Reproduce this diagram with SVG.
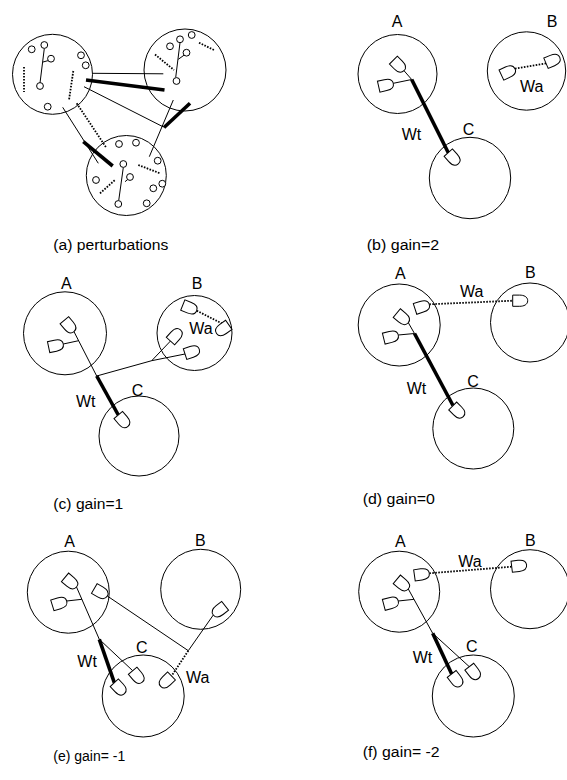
<svg xmlns="http://www.w3.org/2000/svg" xmlns:xlink="http://www.w3.org/1999/xlink" width="567" height="780" viewBox="0 0 567 780">
  <style>
    .ring { fill: none; stroke: #000; stroke-width: 1; }
    .cell { fill: #fff; stroke: #000; stroke-width: 1; }
    .dot  { fill: #fff; stroke: #000; stroke-width: 1; }
    .thin { fill: none; stroke: #000; stroke-width: 1; }
    .thick { fill: none; stroke: #000; stroke-width: 3.6; }
    .dash { fill: none; stroke: #000; stroke-width: 1.8; stroke-dasharray: 1.6 1.4; }
    .lbl { font-family: "Liberation Sans", Arial, sans-serif; font-size: 16px; fill: #000; }
    .cap { font-family: "Liberation Sans", Arial, sans-serif; font-size: 15.5px; fill: #000; }
  </style>
  <defs>
    <!-- neuron body: tip at origin, flat back 15px behind along -x -->
    <path id="nrn" class="cell" d="M0,0 C0,-4 -4,-5.6 -8,-5.6 L-15,-5.6 L-15,5.6 L-8,5.6 C-4,5.6 0,4 0,0 Z"/>
  </defs>

  <!-- ===== (a) perturbations ===== -->
  <g id="a-panel">
    <g id="a-node-left">
      <circle class="ring" cx="52.5" cy="74.3" r="40"/>
      <line class="thin" x1="44.3" y1="48.5" x2="40" y2="83"/>
      <line class="thin" x1="43" y1="62" x2="48.5" y2="60.5"/>
      <line class="dash" x1="24" y1="67" x2="24" y2="92"/>
      <line class="dash" x1="73.3" y1="71" x2="69" y2="100"/>
      <circle class="dot" cx="31.7" cy="49.3" r="3.4"/>
      <circle class="dot" cx="44.3" cy="45" r="3.4"/>
      <circle class="dot" cx="51" cy="58.7" r="3.4"/>
      <circle class="dot" cx="40" cy="86" r="3.4"/>
      <circle class="dot" cx="81" cy="55.3" r="3.4"/>
      <circle class="dot" cx="85.7" cy="65.3" r="3.4"/>
      <circle class="dot" cx="47.7" cy="106.7" r="3.4"/>
    </g>
    <g id="a-node-right">
      <circle class="ring" cx="185" cy="70" r="41"/>
      <line class="thin" x1="180" y1="42.7" x2="175.7" y2="77.5"/>
      <line class="thin" x1="178.3" y1="59.3" x2="184.3" y2="55"/>
      <line class="dash" x1="155" y1="54.5" x2="174" y2="70"/>
      <line class="dash" x1="199" y1="42.7" x2="214" y2="50"/>
      <circle class="dot" cx="170" cy="46.3" r="3.4"/>
      <circle class="dot" cx="180" cy="39.3" r="3.4"/>
      <circle class="dot" cx="191.7" cy="35" r="3.4"/>
      <circle class="dot" cx="186.5" cy="52.7" r="3.4"/>
      <circle class="dot" cx="176.5" cy="81" r="3.4"/>
    </g>
    <g id="a-node-bottom">
      <circle class="ring" cx="126.3" cy="175.5" r="40"/>
      <line class="thin" x1="123.3" y1="167.5" x2="118.7" y2="200.7"/>
      <line class="thin" x1="125" y1="181.7" x2="128.5" y2="178.8"/>
      <line class="dash" x1="138.3" y1="165" x2="160" y2="173.3"/>
      <line class="dash" x1="100" y1="193.3" x2="115" y2="180"/>
      <circle class="dot" cx="119" cy="144" r="3.4"/>
      <circle class="dot" cx="136" cy="142.7" r="3.4"/>
      <circle class="dot" cx="123.3" cy="164" r="3.4"/>
      <circle class="dot" cx="130" cy="177" r="3.4"/>
      <circle class="dot" cx="96" cy="180" r="3.4"/>
      <circle class="dot" cx="118.3" cy="204" r="3.4"/>
      <circle class="dot" cx="146.7" cy="203.3" r="3.4"/>
      <circle class="dot" cx="153.3" cy="188.3" r="3.4"/>
      <circle class="dot" cx="162.3" cy="183.7" r="3.4"/>
      <circle class="dot" cx="157.7" cy="160.7" r="3.4"/>
    </g>
    <g id="a-links">
      <line class="thin" x1="93" y1="73.3" x2="163.3" y2="73.8"/>
      <line class="thick" x1="86" y1="80" x2="164.5" y2="90"/>
      <line class="thin" x1="84" y1="86.7" x2="163.5" y2="127"/>
      <line class="thick" x1="164" y1="127.5" x2="190" y2="103.3"/>
      <line class="thin" x1="173.3" y1="100" x2="149.3" y2="156.7"/>
      <line class="thin" x1="62.7" y1="107.3" x2="98.3" y2="163.3"/>
      <line class="thick" x1="83.3" y1="141.7" x2="112.7" y2="166"/>
      <line class="dash" x1="76.7" y1="103.3" x2="106" y2="147.3"/>
    </g>
    <text class="cap" x="53.3" y="249.5" textLength="115" lengthAdjust="spacingAndGlyphs">(a) perturbations</text>
  </g>

  <!-- ===== (b) gain=2 ===== -->
  <g id="b-panel">
    <g id="b-links">
      <line class="thin" x1="404" y1="70.7" x2="411.7" y2="79.5"/>
      <line class="thin" x1="393.3" y1="83.3" x2="411.7" y2="79.5"/>
      <line class="thick" x1="411.7" y1="79.5" x2="448.3" y2="152.7"/>
      <line class="dash" x1="515" y1="68.7" x2="546" y2="63.3"/>
    </g>
    <g id="b-A">
      <circle class="ring" cx="397.5" cy="74" r="39.5"/>
      <use xlink:href="#nrn" transform="translate(404,70.7) rotate(45)"/>
      <use xlink:href="#nrn" transform="translate(393.3,83.3) rotate(-13)"/>
      <text class="lbl" x="391.7" y="26.7">A</text>
    </g>
    <g id="b-B">
      <circle class="ring" cx="526.5" cy="71" r="39.2"/>
      <use xlink:href="#nrn" transform="translate(515,68.7) rotate(-25)"/>
      <use xlink:href="#nrn" transform="translate(559.8,57.4) rotate(-23)"/>
      <text class="lbl" x="546.7" y="26.7">B</text>
    </g>
    <g id="b-C">
      <circle class="ring" cx="470" cy="178" r="40.7"/>
      <use xlink:href="#nrn" transform="translate(458.3,163.8) rotate(48)"/>
      <text class="lbl" x="462.7" y="135">C</text>
    </g>
    <text class="lbl" x="401.7" y="140">Wt</text>
    <text class="lbl" x="520" y="91.7">Wa</text>
    <text class="cap" x="366.7" y="249.5" textLength="72.6" lengthAdjust="spacingAndGlyphs">(b) gain=2</text>
  </g>

  <!-- ===== (c) gain=1 ===== -->
  <g id="c-panel">
    <g id="c-links">
      <line class="thin" x1="74" y1="331.7" x2="96.7" y2="376"/>
      <line class="thin" x1="63.3" y1="344" x2="78.6" y2="340.7"/>
      <line class="thick" x1="96.7" y1="376" x2="118.3" y2="415"/>
      <line class="thin" x1="96.7" y1="376" x2="151.7" y2="360.7"/>
      <line class="thin" x1="151.7" y1="360.7" x2="170.5" y2="341"/>
      <line class="thin" x1="151.7" y1="360.7" x2="185" y2="354"/>
      <line class="dash" x1="196.7" y1="310.7" x2="222" y2="323.5"/>
    </g>
    <g id="c-A">
      <circle class="ring" cx="65" cy="333.3" r="41.5"/>
      <use xlink:href="#nrn" transform="translate(74,331.7) rotate(50)"/>
      <use xlink:href="#nrn" transform="translate(63.3,344) rotate(-12)"/>
      <text class="lbl" x="61" y="289">A</text>
    </g>
    <g id="c-B">
      <circle class="ring" cx="194.5" cy="333" r="37.5"/>
      <use xlink:href="#nrn" transform="translate(180.5,329.9) rotate(-48)"/>
      <use xlink:href="#nrn" transform="translate(199.3,349.4) rotate(-18)"/>
      <use xlink:href="#nrn" transform="translate(196.7,310.7) rotate(22)"/>
      <use xlink:href="#nrn" transform="translate(216.5,333.5) rotate(145)"/>
      <text class="lbl" x="191.7" y="289">B</text>
    </g>
    <g id="c-C">
      <circle class="ring" cx="139" cy="436" r="40"/>
      <use xlink:href="#nrn" transform="translate(128,426.4) rotate(49.5)"/>
      <text class="lbl" x="131.7" y="396">C</text>
    </g>
    <text class="lbl" x="76" y="406.7">Wt</text>
    <text class="lbl" x="189.3" y="334">Wa</text>
    <text class="cap" x="53.3" y="509.3" textLength="70" lengthAdjust="spacingAndGlyphs">(c) gain=1</text>
  </g>

  <!-- ===== (d) gain=0 ===== -->
  <g id="d-panel">
    <g id="d-links">
      <line class="dash" x1="429.3" y1="304.3" x2="512.7" y2="300.7"/>
      <line class="thin" x1="408.3" y1="322.7" x2="414.5" y2="333.5"/>
      <line class="thin" x1="398.3" y1="335" x2="414.5" y2="333.5"/>
      <line class="thick" x1="414.5" y1="333.5" x2="453" y2="405.5"/>
    </g>
    <g id="d-A">
      <circle class="ring" cx="399.2" cy="325" r="41"/>
      <use xlink:href="#nrn" transform="translate(429.3,304.3) rotate(-18)"/>
      <use xlink:href="#nrn" transform="translate(408.3,322.7) rotate(40)"/>
      <use xlink:href="#nrn" transform="translate(398.3,335) rotate(-14)"/>
      <text class="lbl" x="395" y="279.3">A</text>
    </g>
    <g id="d-B">
      <circle class="ring" cx="530" cy="322.5" r="39.5"/>
      <use xlink:href="#nrn" transform="translate(527.7,300.7) rotate(0)"/>
      <text class="lbl" x="525" y="278">B</text>
    </g>
    <g id="d-C">
      <circle class="ring" cx="473.3" cy="428.5" r="40.5"/>
      <use xlink:href="#nrn" transform="translate(463.3,416.6) rotate(45)"/>
      <text class="lbl" x="467.3" y="386.7">C</text>
    </g>
    <text class="lbl" x="460" y="296.7">Wa</text>
    <text class="lbl" x="406.7" y="394">Wt</text>
    <text class="cap" x="362.7" y="504.3" textLength="72.3" lengthAdjust="spacingAndGlyphs">(d) gain=0</text>
  </g>

  <!-- ===== (e) gain= -1 ===== -->
  <g id="e-panel">
    <g id="e-links">
      <line class="thin" x1="76.5" y1="587" x2="99.3" y2="639.3"/>
      <line class="thin" x1="66.7" y1="601" x2="81.9" y2="599.3"/>
      <line class="thick" x1="99.3" y1="639.3" x2="114.3" y2="682.7"/>
      <line class="thin" x1="99.3" y1="639.3" x2="132.7" y2="670.7"/>
      <line class="thin" x1="107.3" y1="596" x2="188.3" y2="650.7"/>
      <line class="thin" x1="213.3" y1="615" x2="188.3" y2="650.7"/>
      <line class="dash" x1="188.3" y1="650.7" x2="171.5" y2="676"/>
    </g>
    <g id="e-A">
      <circle class="ring" cx="68.3" cy="592.2" r="41"/>
      <use xlink:href="#nrn" transform="translate(76.5,587) rotate(40)"/>
      <use xlink:href="#nrn" transform="translate(66.7,601) rotate(-17)"/>
      <use xlink:href="#nrn" transform="translate(107.3,596) rotate(30)"/>
      <text class="lbl" x="64.3" y="546.7">A</text>
    </g>
    <g id="e-B">
      <circle class="ring" cx="200.7" cy="589.3" r="40"/>
      <use xlink:href="#nrn" transform="translate(213.3,615) rotate(142)"/>
      <text class="lbl" x="195" y="546">B</text>
    </g>
    <g id="e-C">
      <circle class="ring" cx="143.2" cy="696" r="41"/>
      <use xlink:href="#nrn" transform="translate(124.5,693.7) rotate(47)"/>
      <use xlink:href="#nrn" transform="translate(142.3,682.2) rotate(50)"/>
      <use xlink:href="#nrn" transform="translate(160.7,686.4) rotate(136)"/>
      <text class="lbl" x="136" y="652.7">C</text>
    </g>
    <text class="lbl" x="77.3" y="667.3">Wt</text>
    <text class="lbl" x="186" y="683.3">Wa</text>
    <text class="cap" x="53.3" y="761" textLength="72" lengthAdjust="spacingAndGlyphs">(e) gain= -1</text>
  </g>

  <!-- ===== (f) gain= -2 ===== -->
  <g id="f-panel">
    <g id="f-links">
      <line class="dash" x1="429.3" y1="573.3" x2="511.7" y2="566.7"/>
      <line class="thin" x1="408.3" y1="589" x2="432.7" y2="633.3"/>
      <line class="thin" x1="398.3" y1="601" x2="414" y2="599.3"/>
      <line class="thick" x1="432.7" y1="633.3" x2="451.7" y2="674"/>
      <line class="thin" x1="432.7" y1="633.3" x2="469.3" y2="666.7"/>
    </g>
    <g id="f-A">
      <circle class="ring" cx="399.2" cy="591.7" r="40.5"/>
      <use xlink:href="#nrn" transform="translate(429.3,573.3) rotate(-8)"/>
      <use xlink:href="#nrn" transform="translate(408.3,589) rotate(40)"/>
      <use xlink:href="#nrn" transform="translate(398.3,601) rotate(-15)"/>
      <text class="lbl" x="395" y="546.7">A</text>
    </g>
    <g id="f-B">
      <circle class="ring" cx="530" cy="589.2" r="39.5"/>
      <use xlink:href="#nrn" transform="translate(526.6,564.9) rotate(-7)"/>
      <text class="lbl" x="525" y="546">B</text>
    </g>
    <g id="f-C">
      <circle class="ring" cx="473.3" cy="696" r="41"/>
      <use xlink:href="#nrn" transform="translate(460.9,685.8) rotate(52)"/>
      <use xlink:href="#nrn" transform="translate(478.5,678.5) rotate(52)"/>
      <text class="lbl" x="466" y="651.7">C</text>
    </g>
    <text class="lbl" x="458.3" y="566.7">Wa</text>
    <text class="lbl" x="412.7" y="663.3">Wt</text>
    <text class="cap" x="362.7" y="757" textLength="77" lengthAdjust="spacingAndGlyphs">(f) gain= -2</text>
  </g>
</svg>
